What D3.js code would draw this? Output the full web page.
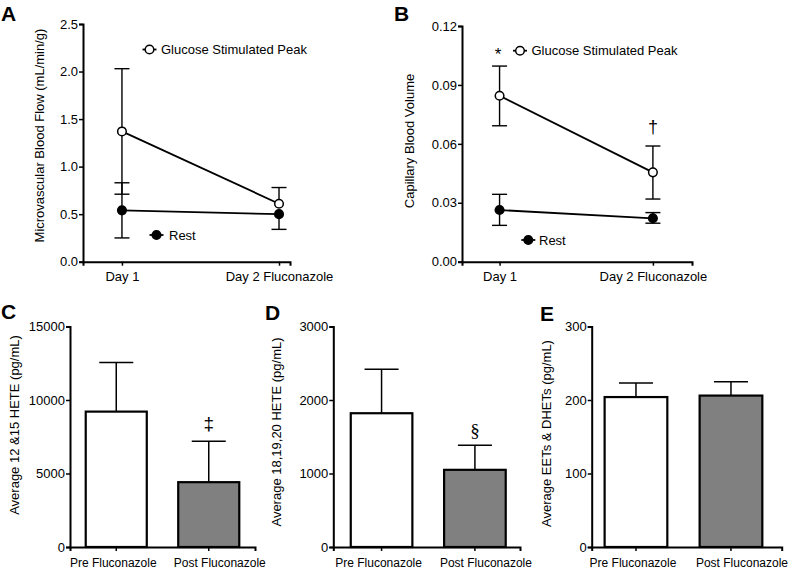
<!DOCTYPE html>
<html>
<head>
<meta charset="utf-8">
<script src="https://cdn.jsdelivr.net/npm/d3@7"></script>
<style>
  body { margin: 0; background: #fff; }
  svg { display: block; }
</style>
</head>
<body>
<script>
// categories
var dayLabels = ["Day 1", "Day 2 Fluconazole"];
var fluLabels = ["Pre Fluconazole", "Post Fluconazole"];

// A: microvascular blood flow (error bar ends, null = not drawn)
var flowPeak   = [1.37, 0.61];
var flowPeakHi = [2.03, 0.78];
var flowPeakLo = [0.71, null];
var flowRest   = [0.54, 0.50];
var flowRestHi = [0.83, null];
var flowRestLo = [0.25, 0.34];

// B: capillary blood volume
var volPeak   = [0.0845, 0.0455];
var volPeakHi = [0.0996, 0.0589];
var volPeakLo = [0.0692, 0.0319];
var volRest   = [0.0263, 0.0221];
var volRestHi = [0.0343, 0.0250];
var volRestLo = [0.0185, 0.0196];

// C, D, E: bars + SEM
var hete1215     = [9210, 4410];
var hete1215Sem  = [3340, 2780];
var hete181920    = [1820, 1050];
var hete181920Sem = [600, 335];
var eets    = [204, 206];
var eetsSem = [19, 19];

// tick labels
var flowTicks = [0, 0.5, 1.0, 1.5, 2.0, 2.5];
var volTicks  = [0, 0.03, 0.06, 0.09, 0.12];
var heteTicks = [0, 5000, 10000, 15000];
var hete2Ticks = [0, 1000, 2000, 3000];
var eetTicks  = [0, 100, 200, 300];

var F = "'Liberation Sans', Arial, Helvetica, sans-serif";

var svg = d3.select("body").append("svg")
    .attr("width", 792)
    .attr("height", 571);

function styleAxis(g, size) {
  g.attr("font-size", size).attr("font-family", F);
  g.select(".domain").attr("stroke-width", 2);
  g.selectAll(".tick line").attr("stroke-width", 1.5);
  g.selectAll(".tick text").attr("fill", "#000");
}

function panelLetter(txt, x, y) {
  svg.append("text")
    .attr("x", x).attr("y", y)
    .attr("font-family", F)
    .attr("font-weight", "bold")
    .attr("font-size", 21)
    .text(txt);
}

function yTitle(txt, cx, cy) {
  svg.append("text")
    .attr("transform", "translate(" + cx + "," + cy + ") rotate(-90)")
    .attr("text-anchor", "middle")
    .attr("dy", "0.35em")
    .attr("font-family", F)
    .attr("font-size", 13)
    .text(txt);
}

// ****************** line panels ***************************
function linePanel(o) {
  var x = d3.scalePoint().domain(dayLabels).range([o.x0, o.x1]).padding(o.pad).align(o.align);
  var y = d3.scaleLinear().domain([0, o.ymax]).range([o.yb, o.yt]);
  var g = svg.append("g");

  var ya = g.append("g")
      .attr("transform", "translate(" + o.x0 + ",0)")
      .call(d3.axisLeft(y).tickValues(o.ticks).tickFormat(d3.format(o.fmt))
            .tickSizeOuter(0).tickSize(4).tickPadding(1));
  styleAxis(ya, 13);

  var xa = g.append("g")
      .attr("transform", "translate(0," + o.yb + ")")
      .call(d3.axisBottom(x).tickSizeOuter(0).tickSize(4).tickPadding(6));
  styleAxis(xa, 13);

  o.series.forEach(function(s) {
    s.vals.forEach(function(v, i) {
      var cx = x(dayLabels[i]);
      var top = s.hi[i] == null ? v : s.hi[i];
      var bot = s.lo[i] == null ? v : s.lo[i];
      g.append("line")
        .attr("x1", cx).attr("x2", cx)
        .attr("y1", y(top)).attr("y2", y(bot))
        .attr("stroke", "#000").attr("stroke-width", 1.4);
      [s.hi[i], s.lo[i]].forEach(function(e) {
        if (e == null) return;
        g.append("line")
          .attr("x1", cx - 7.5).attr("x2", cx + 7.5)
          .attr("y1", y(e)).attr("y2", y(e))
          .attr("stroke", "#000").attr("stroke-width", 1.4);
      });
    });
  });

  var line = d3.line()
      .x(function(d, i) { return x(dayLabels[i]); })
      .y(function(d) { return y(d); });

  o.series.forEach(function(s) {
    g.append("path")
      .attr("d", line(s.vals))
      .attr("fill", "none").attr("stroke", "#000").attr("stroke-width", 1.8);
  });

  o.series.forEach(function(s) {
    g.selectAll(null).data(s.vals).enter().append("circle")
      .attr("cx", function(d, i) { return x(dayLabels[i]); })
      .attr("cy", function(d) { return y(d); })
      .attr("r", 4.3)
      .attr("fill", s.open ? "#fff" : "#000")
      .attr("stroke", "#000").attr("stroke-width", 1.5);
  });

  // legend entries
  o.legend.forEach(function(l) {
    g.append("line")
      .attr("x1", l.x - 7).attr("x2", l.x + 7)
      .attr("y1", l.y).attr("y2", l.y)
      .attr("stroke", "#000").attr("stroke-width", 1.8);
    g.append("circle")
      .attr("cx", l.x).attr("cy", l.y).attr("r", 4.3)
      .attr("fill", l.open ? "#fff" : "#000")
      .attr("stroke", "#000").attr("stroke-width", 1.5);
    g.append("text")
      .attr("x", l.x + l.dx).attr("y", l.y)
      .attr("dy", "0.36em")
      .attr("font-family", F).attr("font-size", 13)
      .text(l.text);
  });
  return { x: x, y: y };
}

linePanel({
  x0: 83, x1: 290, pad: 0.159, align: 0.78,
  yb: 261.7, yt: 24, ymax: 2.5, ticks: flowTicks, fmt: ".1f",
  series: [
    { vals: flowPeak, hi: flowPeakHi, lo: flowPeakLo, open: true },
    { vals: flowRest, hi: flowRestHi, lo: flowRestLo, open: false }
  ],
  legend: [
    { x: 149.5, y: 49.5, dx: 11.5, open: true, text: "Glucose Stimulated Peak" },
    { x: 156.5, y: 235, dx: 12.5, open: false, text: "Rest" }
  ]
});

var pB = linePanel({
  x0: 462, x1: 692, pad: 0.25, align: 0.49,
  yb: 261.7, yt: 26, ymax: 0.12, ticks: volTicks, fmt: ".2f",
  series: [
    { vals: volPeak, hi: volPeakHi, lo: volPeakLo, open: true },
    { vals: volRest, hi: volRestHi, lo: volRestLo, open: false }
  ],
  legend: [
    { x: 520, y: 50.7, dx: 11.5, open: true, text: "Glucose Stimulated Peak" },
    { x: 528.3, y: 240, dx: 10.7, open: false, text: "Rest" }
  ]
});

svg.append("text")
  .attr("x", pB.x(dayLabels[0]) - 1.5).attr("y", 60)
  .attr("text-anchor", "middle")
  .attr("fill", "#000")
  .attr("font-family", F).attr("font-size", 17)
  .text("*");
svg.append("text")
  .attr("x", pB.x(dayLabels[1])).attr("y", 133)
  .attr("text-anchor", "middle")
  .attr("fill", "#000")
  .attr("font-family", F).attr("font-size", 18)
  .text("\u2020");

// ****************** bar panels ***************************
function barPanel(o) {
  var x = d3.scaleBand().domain(fluLabels).range([o.x0, o.x1])
      .paddingInner(0.34).paddingOuter(0.17).align(o.align);
  var y = d3.scaleLinear().domain([0, o.ymax]).range([547, 326.5]);
  var g = svg.append("g");

  var cols = ["#fff", "#808080"];
  o.vals.forEach(function(v, i) {
    var bx = x(fluLabels[i]), bw = x.bandwidth(), cx = bx + bw / 2;
    g.append("line")
      .attr("x1", cx).attr("x2", cx)
      .attr("y1", y(v)).attr("y2", y(v + o.sem[i]))
      .attr("stroke", "#000").attr("stroke-width", 1.5);
    g.append("line")
      .attr("x1", cx - 17).attr("x2", cx + 17)
      .attr("y1", y(v + o.sem[i])).attr("y2", y(v + o.sem[i]))
      .attr("stroke", "#000").attr("stroke-width", 1.5);
    g.append("rect")
      .attr("x", bx).attr("width", bw)
      .attr("y", y(v)).attr("height", y(0) - y(v))
      .attr("fill", cols[i]).attr("stroke", "#000").attr("stroke-width", 2.2);
  });

  var ya = g.append("g")
      .attr("transform", "translate(" + o.x0 + ",0)")
      .call(d3.axisLeft(y).tickValues(o.ticks).tickFormat(d3.format("d"))
            .tickSizeOuter(0).tickSize(4).tickPadding(1));
  styleAxis(ya, 13);

  var xa = g.append("g")
      .attr("transform", "translate(0,547)")
      .call(d3.axisBottom(x).tickSizeOuter(0).tickSize(4).tickPadding(7.5));
  styleAxis(xa, 12);
  // category labels sit a little off their ticks in the original
  xa.selectAll(".tick text").attr("dx", function(d, i) { return i === 0 ? -3 : 11; });
  return { x: x, y: y };
}

var pC = barPanel({ x0: 70, x1: 255, align: 0.5, ymax: 15000, ticks: heteTicks,
                    vals: hete1215, sem: hete1215Sem });
var pD = barPanel({ x0: 333.3, x1: 520, align: 0.55, ymax: 3000, ticks: hete2Ticks,
                    vals: hete181920, sem: hete181920Sem });
var pE = barPanel({ x0: 591.7, x1: 781.7, align: 0.4, ymax: 300, ticks: eetTicks,
                    vals: eets, sem: eetsSem });

svg.append("text")
  .attr("x", pC.x(fluLabels[1]) + pC.x.bandwidth() / 2).attr("y", 430)
  .attr("text-anchor", "middle")
  .attr("fill", "#000")
  .attr("font-family", F).attr("font-size", 19)
  .text("\u2021");
svg.append("text")
  .attr("x", pD.x(fluLabels[1]) + pD.x.bandwidth() / 2).attr("y", 437)
  .attr("text-anchor", "middle")
  .attr("fill", "#000")
  .attr("font-family", "'Liberation Serif', 'Times New Roman', serif").attr("font-size", 19)
  .text("\u00a7");

// letters and axis titles
panelLetter("A", 1, 21);
panelLetter("B", 394, 21);
panelLetter("C", 1, 319);
panelLetter("D", 265, 320);
panelLetter("E", 540, 321);

yTitle("Microvascular Blood Flow (mL/min/g)", 39, 135.5);
yTitle("Capillary Blood Volume", 409, 141);
yTitle("Average 12 &15 HETE (pg/mL)", 14, 425);
yTitle("Average 18,19,20 HETE (pg/mL)", 276.5, 432);
yTitle("Average EETs & DHETs (pg/mL)", 546.5, 433.5);
</script>
</body>
</html>
